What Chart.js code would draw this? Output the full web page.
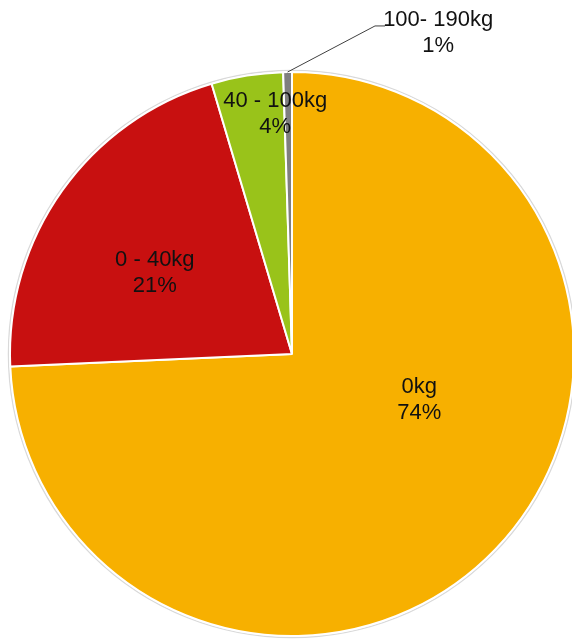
<!DOCTYPE html>
<html>
<head>
<meta charset="utf-8">
<script src="https://cdn.jsdelivr.net/npm/chart.js@4"></script>
<style>
  html, body { margin: 0; padding: 0; background: #fff; overflow: hidden; }
  #wrap { width: 584px; height: 639px; }
</style>
</head>
<body>
<div id="wrap"><canvas id="pie" width="584" height="639"></canvas></div>
<script>
// Daten
const categories = ['0kg', '0 - 40kg', '40 - 100kg', '100- 190kg'];
const shares = [74.3, 21.1, 4.1, 0.5];
const shareLabels = ['74%', '21%', '4%', '1%'];
const sliceColors = ['#F7B000', '#C81010', '#99C31A', '#7F7F7F'];

// Label-Positionen (Winkel im Uhrzeigersinn ab oben, Radius-Faktor)
const labelPos = [
  { angle: 110, r: 0.48 },
  { angle: 300.6, r: 0.565 },
  { angle: 356, r: 0.855 },
  { angle: 24.5, r: 1.25, leader: { angle: 14.2, r: 1.2, run: 10 } }
];

function polar(cx, cy, deg, rad) {
  const a = (deg - 90) * Math.PI / 180;
  return { x: cx + Math.cos(a) * rad, y: cy + Math.sin(a) * rad };
}

// Außenlinie + Beschriftungen
const labelPlugin = {
  id: 'labels',
  beforeDatasetsDraw(chart) {
    const arc = chart.getDatasetMeta(0).data[0];
    const ctx = chart.ctx;
    ctx.save();
    ctx.beginPath();
    ctx.arc(arc.x, arc.y, arc.outerRadius + 1.5, 0, Math.PI * 2);
    ctx.strokeStyle = '#d9d9d9';
    ctx.lineWidth = 1.5;
    ctx.stroke();
    ctx.restore();
  },
  afterDatasetsDraw(chart) {
    const ctx = chart.ctx;
    const arcs = chart.getDatasetMeta(0).data;
    ctx.save();
    ctx.font = '22px "Liberation Sans", Arial, sans-serif';
    ctx.fillStyle = '#111111';
    ctx.textAlign = 'center';
    ctx.textBaseline = 'middle';
    arcs.forEach((arc, i) => {
      const cx = arc.x, cy = arc.y, R = arc.outerRadius;
      const p = labelPos[i];
      const pt = polar(cx, cy, p.angle, R * p.r);
      if (p.leader) {
        const mid = (arc.startAngle + arc.endAngle) / 2;
        const ax = cx + Math.cos(mid) * R;
        const ay = cy + Math.sin(mid) * R;
        const el = polar(cx, cy, p.leader.angle, R * p.leader.r);
        ctx.beginPath();
        ctx.moveTo(ax, ay);
        ctx.lineTo(el.x, el.y);
        ctx.lineTo(el.x + p.leader.run, el.y);
        ctx.strokeStyle = '#404040';
        ctx.lineWidth = 1;
        ctx.stroke();
      }
      ctx.fillText(categories[i], pt.x, pt.y - 13);
      ctx.fillText(shareLabels[i], pt.x, pt.y + 13);
    });
    ctx.restore();
  }
};

new Chart(document.getElementById('pie'), {
  type: 'pie',
  data: {
    labels: categories,
    datasets: [{
      data: shares,
      backgroundColor: sliceColors,
      borderColor: '#ffffff',
      borderWidth: 2
    }]
  },
  options: {
    responsive: false,
    animation: false,
    layout: { padding: { top: 71, bottom: 2, left: 9, right: 9 } },
    plugins: {
      legend: { display: false },
      tooltip: { enabled: false }
    }
  },
  plugins: [labelPlugin]
});
</script>
</body>
</html>
